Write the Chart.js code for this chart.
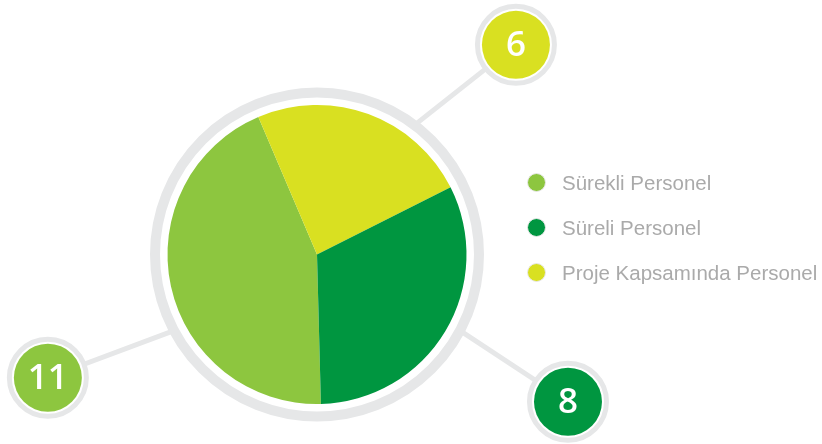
<!DOCTYPE html>
<html>
<head>
<meta charset="utf-8">
<script src="https://cdn.jsdelivr.net/npm/chart.js@4"></script>
<style>
  html, body { margin: 0; padding: 0; background: #fff; }
  #wrap { position: relative; width: 822px; height: 444px; }
  #legend { position: absolute; left: 527px; top: 0; font-family: "Liberation Sans", Arial, sans-serif; font-size: 20.5px; color: #aaaaaa; }
  .item { position: absolute; left: 0; white-space: nowrap; height: 22px; line-height: 22px; }
  .dot { position: absolute; left: 0; top: 1px; width: 19px; height: 19px; border-radius: 50%; border: 1px solid #e8e8e8; box-sizing: border-box; }
  .txt { position: absolute; left: 35px; top: 0; }
</style>
</head>
<body>
<div id="wrap">
  <canvas id="pie" width="822" height="444"></canvas>
  <div id="legend"></div>
</div>
<script>
// Veriler (lejant sırasıyla)
const categories = ['Sürekli Personel', 'Süreli Personel', 'Proje Kapsamında Personel'];
const values = [11, 8, 6];
const colors = ['#8dc63f', '#009640', '#d9e021'];

// dilimlerin saat yönünde çizim sırası (alttan başlayarak)
const drawOrder = [0, 2, 1];

// etiket balonlarının yerleşimi: açı (üstten saat yönünde), merkeze uzaklık, çizginin halkadan çıktığı açı
const calloutPlacement = [
  { angle: 245.4, dist: 296, lineFrom: 242 },
  { angle: 120.4, dist: 291, lineFrom: 118 },
  { angle: 43.5, dist: 289, lineFrom: 37 }
];

const ringGray = '#e6e7e8';

function polar(cx, cy, r, deg) {
  const a = deg * Math.PI / 180;
  return { x: cx + r * Math.sin(a), y: cy - r * Math.cos(a) };
}

const calloutPlugin = {
  id: 'callouts',
  afterDatasetsDraw(chart) {
    const ctx = chart.ctx;
    const arc = chart.getDatasetMeta(0).data[0];
    const cx = arc.x, cy = arc.y, R = arc.outerRadius;
    const ringR = R + 12.5;

    ctx.save();
    // bağlantı çizgileri
    ctx.strokeStyle = ringGray;
    ctx.lineWidth = 5;
    calloutPlacement.forEach(p => {
      const a = polar(cx, cy, ringR, p.lineFrom);
      const b = polar(cx, cy, p.dist, p.angle);
      ctx.beginPath();
      ctx.moveTo(a.x, a.y);
      ctx.lineTo(b.x, b.y);
      ctx.stroke();
    });

    // dış gri halka
    ctx.lineWidth = 10;
    ctx.beginPath();
    ctx.arc(cx, cy, ringR, 0, Math.PI * 2);
    ctx.stroke();

    // değer balonları
    calloutPlacement.forEach((p, i) => {
      const c = polar(cx, cy, p.dist, p.angle);
      ctx.fillStyle = '#fff';
      ctx.beginPath();
      ctx.arc(c.x, c.y, 38, 0, Math.PI * 2);
      ctx.fill();
      ctx.strokeStyle = ringGray;
      ctx.lineWidth = 5;
      ctx.beginPath();
      ctx.arc(c.x, c.y, 38.5, 0, Math.PI * 2);
      ctx.stroke();
      ctx.fillStyle = colors[i];
      ctx.beginPath();
      ctx.arc(c.x, c.y, 34, 0, Math.PI * 2);
      ctx.fill();
      ctx.fillStyle = '#fff';
      ctx.font = '600 35px "Open Sans", Lato, sans-serif';
      ctx.textAlign = 'center';
      ctx.textBaseline = 'middle';
      ctx.fillText(String(values[i]), c.x, c.y + 1);
    });
    ctx.restore();
  }
};

new Chart(document.getElementById('pie'), {
  type: 'pie',
  data: {
    labels: drawOrder.map(i => categories[i]),
    datasets: [{
      data: drawOrder.map(i => values[i]),
      backgroundColor: drawOrder.map(i => colors[i]),
      borderWidth: 0
    }]
  },
  options: {
    responsive: false,
    animation: false,
    rotation: 178.5,
    layout: { padding: { left: 167.5, right: 355.5, top: 104.5, bottom: 39.5 } },
    plugins: { legend: { display: false }, tooltip: { enabled: false } }
  },
  plugins: [calloutPlugin]
});

// lejant
const legend = document.getElementById('legend');
const legendY = [183, 228, 273];
categories.forEach((name, i) => {
  const el = document.createElement('div');
  el.className = 'item';
  el.style.top = (legendY[i] - 11) + 'px';
  el.innerHTML = '<span class="dot" style="background:' + colors[i] + '"></span><span class="txt">' + name + '</span>';
  legend.appendChild(el);
});
</script>
</body>
</html>
